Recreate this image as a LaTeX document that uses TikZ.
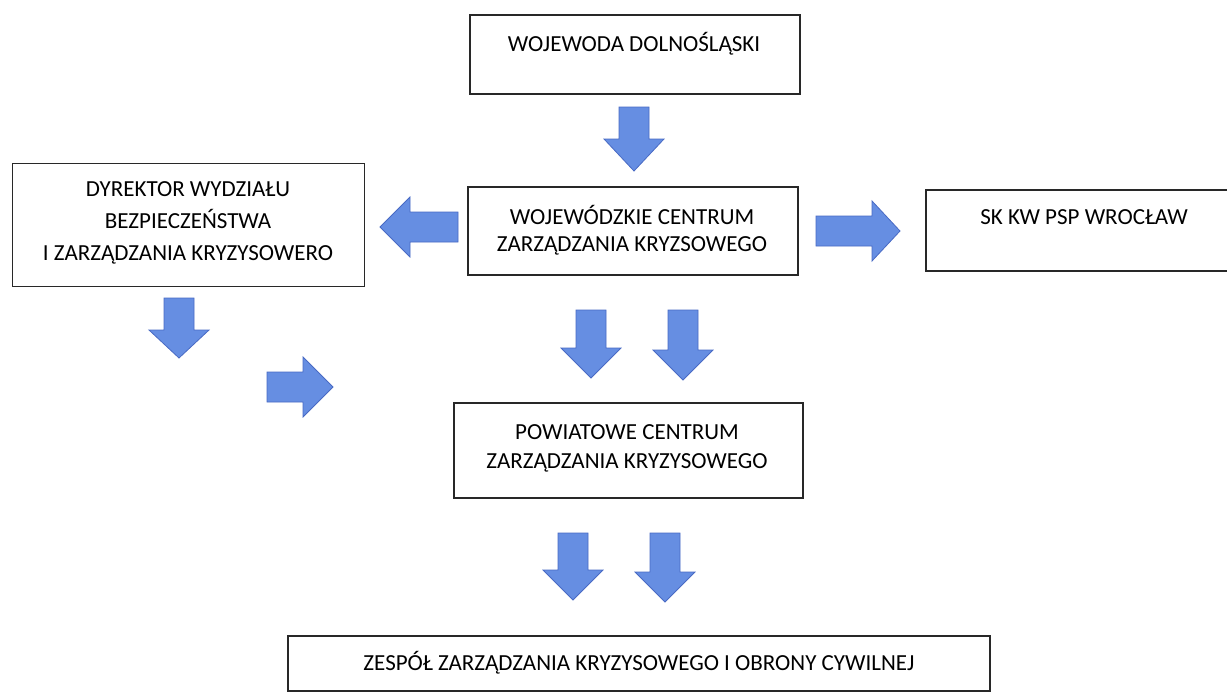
\documentclass[tikz,border=0pt]{standalone}
\usepackage{fontspec}
\setmainfont{Carlito}
\definecolor{arrfill}{RGB}{102,142,226}
\definecolor{arrline}{RGB}{72,106,196}
\definecolor{boxline}{RGB}{40,40,40}
\begin{document}
\begin{tikzpicture}[x=1pt,y=-1pt,
  box/.style={draw=boxline, line width=1.5pt, inner sep=0pt, fill=white},
  lbl/.style={align=center, inner sep=0pt, font=\fontsize{23}{29}\selectfont},
  arr/.style={fill=arrfill, draw=arrline, line width=0.8pt, line join=miter},
  pics/darr/.style 2 args={code={\draw[arr] (0,0) -- (-30,-#2) -- (-15,-#2) -- (-15,-#1) -- (15,-#1) -- (15,-#2) -- (30,-#2) -- cycle;}},
  pics/rarr/.style 2 args={code={\draw[arr] (0,0) -- (-#2,-30) -- (-#2,-15) -- (-#1,-15) -- (-#1,15) -- (-#2,15) -- (-#2,30) -- cycle;}},
  pics/larr/.style 2 args={code={\draw[arr] (0,0) -- (#2,-30) -- (#2,-15) -- (#1,-15) -- (#1,15) -- (#2,15) -- (#2,30) -- cycle;}}
]
\clip (0,0) rectangle (1227,694);
\fill[white] (0,0) rectangle (1227,694);

% boxes
\node[box, minimum width=330pt, minimum height=79pt] (woj) at (635,54.5) {};
\node[lbl] (wojt) at (634,44) {WOJEWODA DOLNOŚLĄSKI};

\node[box, minimum width=352pt, minimum height=123pt] (dyr) at (188.5,225) {};
\node[lbl, font=\fontsize{23}{32}\selectfont] (dyrt) at (188,223) {DYREKTOR WYDZIAŁU\\BEZPIECZEŃSTWA\\I ZARZĄDZANIA KRYZYSOWERO};

\node[box, minimum width=330pt, minimum height=88pt] (wczk) at (633,231) {};
\node[lbl, font=\fontsize{23}{27}\selectfont] (wczkt) at (632,230) {WOJEWÓDZKIE CENTRUM\\ZARZĄDZANIA KRYZSOWEGO};

\node[box, minimum width=319pt, minimum height=81pt] (sk) at (1085.5,230.5) {};
\node[lbl] (skt) at (1084,217) {SK KW PSP WROCŁAW};

\node[box, minimum width=349pt, minimum height=95pt] (pczk) at (628.5,450.5) {};
\node[lbl, font=\fontsize{23}{29}\selectfont] (pczkt) at (627,448) {POWIATOWE CENTRUM\\ZARZĄDZANIA KRYZYSOWEGO};

\node[box, minimum width=702pt, minimum height=55pt] (zesp) at (639,663.5) {};
\node[lbl] (zespt) at (639,663) {ZESPÓŁ ZARZĄDZANIA KRYZYSOWEGO I OBRONY CYWILNEJ};

% arrows
\pic at (634,171) {darr={64}{32}};
\pic at (380,227) {larr={78}{30}};
\pic at (900,231) {rarr={84}{28}};
\pic at (179,358) {darr={60}{28}};
\pic at (333,387) {rarr={66}{30}};
\pic at (591,378) {darr={68}{30}};
\pic at (683,380) {darr={70}{30}};
\pic at (573,600) {darr={67}{30}};
\pic at (665,602) {darr={69}{30}};
\end{tikzpicture}
\end{document}
